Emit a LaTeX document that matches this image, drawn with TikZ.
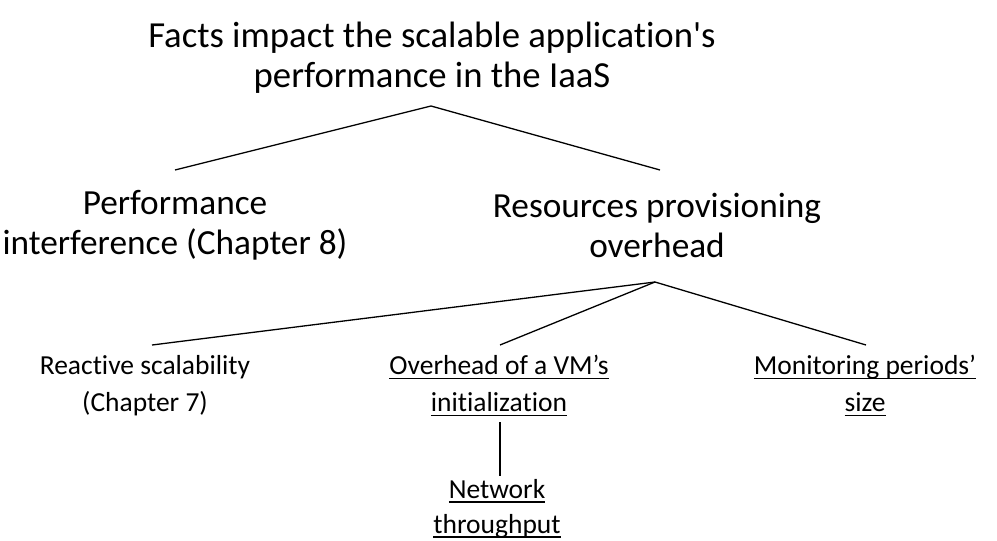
\documentclass[tikz,border=0pt]{standalone}
\usepackage{fontspec}
\setmainfont{Carlito}[Ligatures={TeXOff,NoCommon}]
% underline at a fixed distance below the baseline
\newcommand\ulin[1]{\setbox0=\hbox{#1}\rlap{\rule[-4.4pt]{\wd0}{1.7pt}}\box0}
\begin{document}
\begin{tikzpicture}[x=1pt,y=-1pt,
  edge/.style={line width=1.3pt, black},
  lvlone/.style={font=\fontsize{36.7}{40}\selectfont, align=center, inner sep=0pt},
  lvltwo/.style={font=\fontsize{35.3}{40}\selectfont, align=center, inner sep=0pt},
  lvlthree/.style={font=\fontsize{27.5}{37}\selectfont, align=center, inner sep=0pt}]
\useasboundingbox (0,0) rectangle (997,541);
% title
\node[lvlone] (root) at (432,58) {Facts impact the scalable application's\\performance in the IaaS};
% first level
\node[lvltwo] (perf) at (175,225) {Performance\\interference (Chapter 8)};
\node[lvltwo] (res) at (657,225) {Resources provisioning\\overhead};
% second level
\node[lvlthree] (react) at (145,386) {Reactive scalability\\(Chapter 7)};
\node[lvlthree] (vm) at (499,386) {\ulin{Overhead of a VM’s}\\\ulin{initialization}};
\node[lvlthree] (mon) at (865,386) {\ulin{Monitoring periods’}\\\ulin{size}};
% third level
\node[lvlthree, font=\fontsize{27.5}{35}\selectfont] (net) at (497,509) {\ulin{Network}\\\ulin{throughput}};
% connector anchors
\coordinate (rootb) at (431,106);
\coordinate (perft) at (175,170);
\coordinate (rest) at (660,170);
\coordinate (resb) at (655,282);
\coordinate (reactt) at (152,345);
\coordinate (vmt) at (500,345);
\coordinate (mont) at (866,345);
\coordinate (vmb) at (500,422);
\coordinate (nett) at (500,476);
\draw[edge] (perft) -- (rootb) -- (rest);
\draw[edge] (resb) -- (reactt);
\draw[edge] (resb) -- (vmt);
\draw[edge] (resb) -- (mont);
\draw[edge] (vmb) -- (nett);
\end{tikzpicture}
\end{document}
